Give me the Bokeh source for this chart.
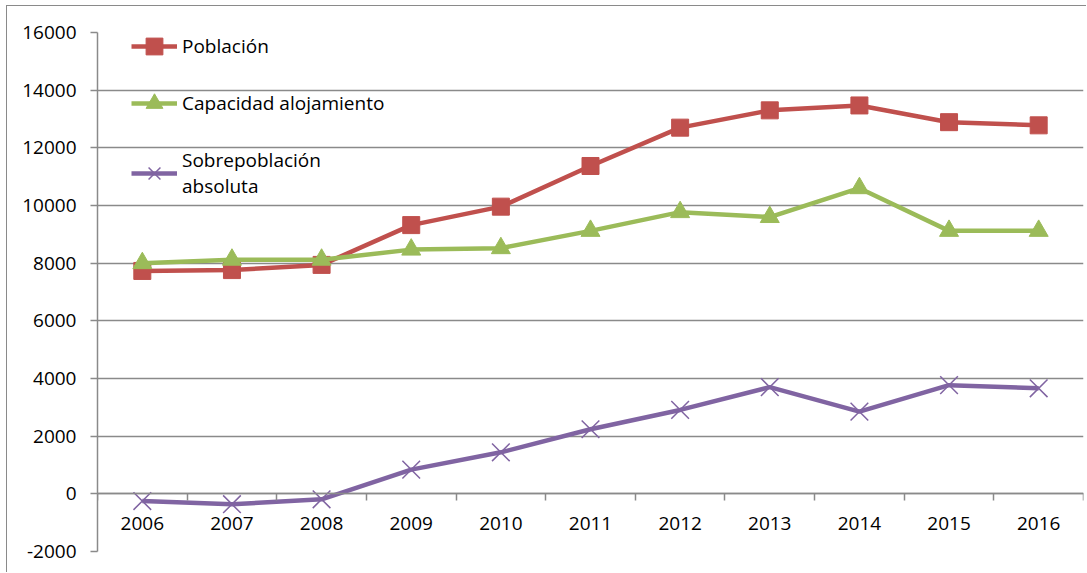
from bokeh.plotting import figure
from bokeh.models import Range1d, LinearAxis, FixedTicker, Legend, LegendItem
from bokeh.embed import file_html
from bokeh.resources import INLINE

# ---- data ----
years = ["2006", "2007", "2008", "2009", "2010", "2011", "2012", "2013", "2014", "2015", "2016"]
poblacion = [7730, 7760, 7940, 9320, 9960, 11370, 12700, 13300, 13470, 12890, 12780]
capacidad = [8000, 8120, 8120, 8470, 8520, 9120, 9770, 9600, 10600, 9120, 9120]
sobrepoblacion = [-250, -360, -190, 840, 1440, 2240, 2910, 3700, 2850, 3770, 3660]
y_ticks = list(range(-2000, 16001, 2000))
series_names = ["Población", "Capacidad alojamiento", "Sobrepoblación\nabsoluta"]

FONT = "Open Sans"
FSIZE = "19px"
GRAY = "#8a8a8a"
RED = "#C0504D"
GREEN = "#9BBB59"
PURPLE = "#8064A2"

x = [i + 0.5 for i in range(len(years))]

p = figure(width=1080, height=567, output_backend="svg", toolbar_location=None,
           x_range=Range1d(0, len(years)), y_range=Range1d(-2000, 16000),
           x_axis_location=None, y_axis_location="left",
           min_border_left=90, min_border_right=4, min_border_top=26, min_border_bottom=22,
           background_fill_color="white", border_fill_color="white",
           outline_line_color=None)
p.styles = {"border-left": "1px solid #8a8a8a", "border-top": "1px solid #8a8a8a",
            "margin-left": "6px", "margin-top": "5px"}

# grid
p.xgrid.visible = False
p.ygrid.ticker = FixedTicker(ticks=y_ticks)
p.ygrid.grid_line_color = GRAY
p.ygrid.grid_line_width = 1.5

# y axis
ya = p.yaxis[0]
ya.ticker = FixedTicker(ticks=y_ticks)
ya.major_label_overrides = {t: str(t) for t in y_ticks}
ya.axis_line_color = GRAY
ya.axis_line_width = 1.5
ya.major_tick_line_color = GRAY
ya.major_tick_line_width = 1.5
ya.major_tick_out = 7
ya.major_tick_in = 0
ya.minor_tick_line_color = None
ya.major_label_standoff = 14
ya.major_label_text_font = FONT
ya.major_label_text_font_size = FSIZE
ya.major_label_text_color = "black"

# x axis: tick marks between categories, at y = 0
xa_ticks = LinearAxis(ticker=FixedTicker(ticks=list(range(len(years) + 1))),
                      major_label_overrides={i: "" for i in range(len(years) + 1)},
                      fixed_location=0)
xa_ticks.axis_line_color = GRAY
xa_ticks.axis_line_width = 1.5
xa_ticks.major_tick_line_color = GRAY
xa_ticks.major_tick_line_width = 1.5
xa_ticks.major_tick_out = 7
xa_ticks.major_tick_in = 0
xa_ticks.minor_tick_line_color = None
p.add_layout(xa_ticks, "below")

# x axis: category labels
xa_lab = LinearAxis(ticker=FixedTicker(ticks=x),
                    major_label_overrides={xi: yr for xi, yr in zip(x, years)},
                    fixed_location=0)
xa_lab.axis_line_color = None
xa_lab.major_tick_line_color = None
xa_lab.minor_tick_line_color = None
xa_lab.major_label_standoff = 17
xa_lab.major_label_text_font = FONT
xa_lab.major_label_text_font_size = FSIZE
xa_lab.major_label_text_color = "black"
p.add_layout(xa_lab, "below")

# series
l1 = p.line(x, poblacion, line_color=RED, line_width=4.5)
m1 = p.scatter(x, poblacion, marker="square", size=17, fill_color=RED, line_color=RED)
l2 = p.line(x, capacidad, line_color=GREEN, line_width=4.5)
m2 = p.scatter(x, capacidad, marker="triangle", size=19, fill_color=GREEN, line_color=GREEN)
l3 = p.line(x, sobrepoblacion, line_color=PURPLE, line_width=4.5)
m3 = p.scatter(x, sobrepoblacion, marker="x", size=25, line_color=PURPLE, line_width=1.5)


def style_legend(lg, label_h):
    lg.label_text_font = FONT
    lg.label_text_font_size = FSIZE
    lg.label_text_color = "black"
    lg.glyph_width = 46
    lg.glyph_height = 42
    lg.label_height = label_h
    lg.spacing = 15
    lg.padding = 0
    lg.margin = 0
    lg.label_standoff = 5
    lg.border_line_color = None
    lg.background_fill_alpha = 0


legend_a = Legend(items=[LegendItem(label=series_names[0], renderers=[l1, m1]),
                         LegendItem(label=series_names[1], renderers=[l2, m2])],
                  location=(34, 427))
style_legend(legend_a, 42)
p.add_layout(legend_a)

legend_b = Legend(items=[LegendItem(label=series_names[2], renderers=[l3, m3])],
                  location=(34, 344))
style_legend(legend_b, 68)
p.add_layout(legend_b)

open("out.html", "w").write(file_html(p, INLINE))
